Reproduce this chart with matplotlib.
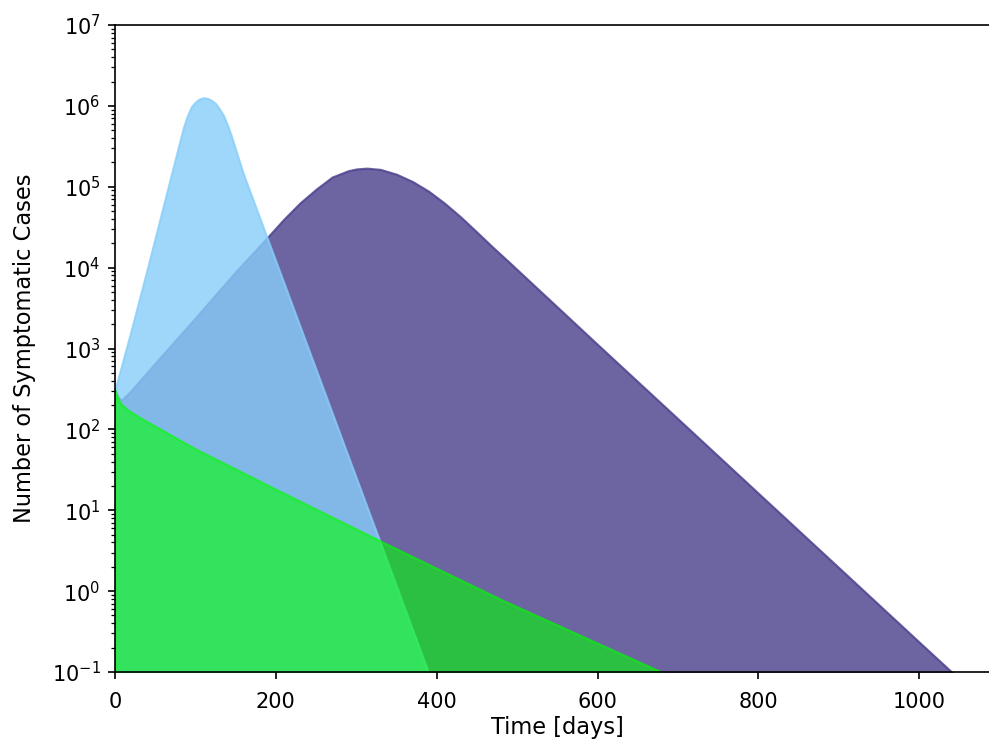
import matplotlib
matplotlib.use("Agg")
import matplotlib.pyplot as plt

# ---- data (days, symptomatic cases) ----
days_fast = [0, 20, 40, 60, 70, 80, 85, 90, 95, 100, 105, 110, 115, 120, 125,
             130, 135, 140, 145, 150, 160, 200, 250, 300, 350, 400]
cases_fast = [309, 1.66e3, 9.55e3, 5.75e4, 1.41e5, 3.47e5, 5.37e5, 7.59e5,
              9.77e5, 1.12e6, 1.22e6, 1.26e6, 1.24e6, 1.17e6, 1.07e6, 9.12e5,
              7.59e5, 5.75e5, 4.17e5, 2.88e5, 1.41e5, 1.20e4, 550, 25.1, 1.15,
              0.0525]

days_slow = [0, 4, 8, 20, 50, 100, 150, 190, 210, 230, 250, 270, 290, 300,
             313, 330, 350, 370, 390, 410, 430, 450, 470, 490, 600, 700, 800,
             900, 1000, 1060]
cases_slow = [309, 251, 229, 302, 661, 2.40e3, 8.91e3, 2.40e4, 3.98e4, 6.31e4,
              9.33e4, 1.32e5, 1.58e5, 1.66e5, 1.70e5, 1.64e5, 1.43e5, 1.16e5,
              8.81e4, 6.24e4, 4.22e4, 2.75e4, 1.78e4, 1.17e4, 1122, 135, 16.2,
              1.95, 0.234, 0.066]

days_ctrl = [0, 3, 8, 16, 32, 100, 200, 330, 480, 580, 700]
cases_ctrl = [309, 251, 204, 174, 138, 57.5, 18.2, 4.17, 0.79, 0.28, 0.081]

x_ticks = [0, 200, 400, 600, 800, 1000]
y_ticks = [1e-1, 1e0, 1e1, 1e2, 1e3, 1e4, 1e5, 1e6, 1e7]

fig = plt.figure(figsize=(989 / 150, 742 / 150), dpi=150)
ax = fig.add_axes([115 / 989, 70 / 742, 884.7 / 989, 647 / 742])

floor = 1e-3
ax.fill_between(days_slow, cases_slow, floor, color="darkslateblue", alpha=0.8)
ax.fill_between(days_fast, cases_fast, floor, color="lightskyblue", alpha=0.8)
ax.fill_between(days_ctrl, cases_ctrl, floor, color="lime", alpha=0.6)

ax.set_yscale("log")
ax.set_ylim(1e-1, 1e7)
ax.set_xlim(0, 1100)
ax.set_xticks(x_ticks)
ax.set_yticks(y_ticks)
ax.tick_params(axis="x", pad=6.0)
ax.set_xlabel("Time [days]", fontsize=10.8, labelpad=2.0)
ax.set_ylabel("Number of Symptomatic Cases", fontsize=10.8, labelpad=7.5)

fig.savefig("out.png", dpi=150)
